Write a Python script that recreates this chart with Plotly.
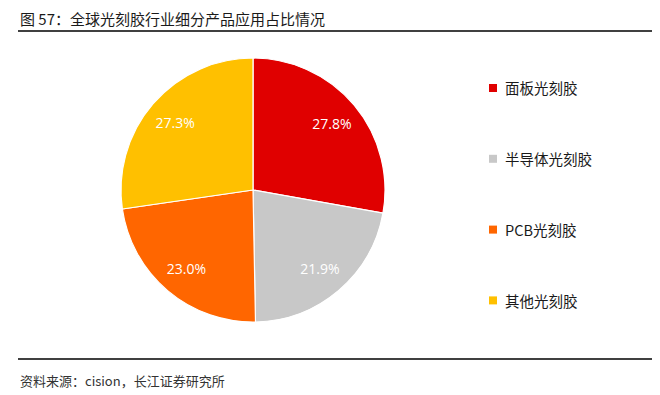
import plotly.graph_objects as go

categories = ["面板光刻胶", "半导体光刻胶", "PCB光刻胶", "其他光刻胶"]
shares = [27.8, 21.9, 23.0, 27.3]
colors = ["#E00000", "#C8C8C8", "#FF6600", "#FFC000"]
title_text = "图 57：全球光刻胶行业细分产品应用占比情况"
source_text = "资料来源：cision，长江证券研究所"

# page has an 8px body margin; figure fits the remaining window
OFF = 8
W, H = 660 - OFF, 395 - OFF
CJK = "Noto Sans CJK SC, Liberation Sans, sans-serif"


def px(x):
    return (x - OFF) / W


def py(y):
    return 1 - (y - OFF) / H


dom = dict(x=[px(121), px(385)], y=[py(322), py(58)])

fig = go.Figure()
fig.add_trace(go.Pie(
    labels=categories,
    values=shares,
    sort=False,
    direction="clockwise",
    rotation=0,
    marker=dict(colors=colors, line=dict(color="white", width=1.2)),
    textinfo="none",
    hoverinfo="label+value",
    domain=dom,
    showlegend=False,
))
# transparent ring used only to place the percentage labels further out
fig.add_trace(go.Pie(
    labels=categories,
    values=shares,
    sort=False,
    direction="clockwise",
    rotation=0,
    hole=0.56,
    marker=dict(colors=["rgba(0,0,0,0)"] * len(shares), line=dict(width=0)),
    texttemplate="%{value:.1f}%",
    textposition="inside",
    insidetextorientation="horizontal",
    textfont=dict(family="Open Sans, Liberation Sans, sans-serif", size=14, color="white"),
    hoverinfo="skip",
    domain=dom,
    showlegend=False,
))

shapes = [
    dict(type="line", xref="paper", yref="paper", x0=px(18), x1=1, y0=py(31), y1=py(31),
         line=dict(color="#000000", width=1.5)),
    dict(type="line", xref="paper", yref="paper", x0=px(18), x1=1, y0=py(359), y1=py(359),
         line=dict(color="#000000", width=1.5)),
]
annotations = [
    dict(text=title_text, xref="paper", yref="paper", x=px(18), y=py(19), xanchor="left", yanchor="middle",
         showarrow=False, font=dict(family=CJK, size=15, color="#1a1a1a")),
    dict(text=source_text, xref="paper", yref="paper", x=px(18), y=py(380), xanchor="left", yanchor="middle",
         showarrow=False, font=dict(family=CJK, size=13, color="#333333")),
]

leg_y0, leg_step = 88, 70.8
for i, (cat, col) in enumerate(zip(categories, colors)):
    yc = leg_y0 + i * leg_step
    shapes.append(dict(type="rect", xref="paper", yref="paper",
                       x0=px(489), x1=px(497), y0=py(yc + 4), y1=py(yc - 4),
                       fillcolor=col, line=dict(width=0)))
    annotations.append(dict(text=cat, xref="paper", yref="paper", x=px(503), y=py(yc),
                            xanchor="left", yanchor="middle", showarrow=False,
                            font=dict(family=CJK, size=14.5, color="#1a1a1a")))

fig.update_layout(
    width=W, height=H,
    margin=dict(l=0, r=0, t=0, b=0),
    paper_bgcolor="white", plot_bgcolor="white",
    shapes=shapes, annotations=annotations,
)

fig.write_html("out.html")
